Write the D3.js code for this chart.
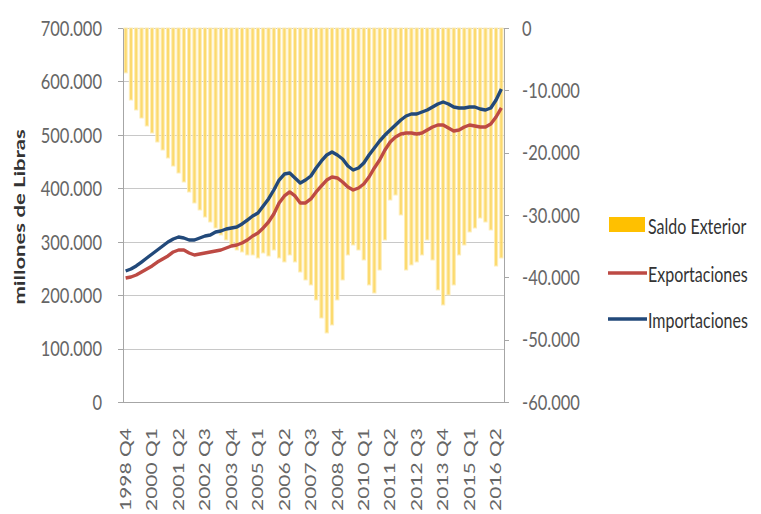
<!DOCTYPE html>
<html>
  <head>
    <meta charset="utf-8">
    <title>Saldo Exterior</title>
    <style>
      body { margin: 0; background: #fff; }
      text { font-family: Lato, "Liberation Sans", sans-serif; }
      .axis path, .axis line { stroke: #a6a6a6; shape-rendering: crispEdges; }
      .grid line { stroke: #c8c8c8; shape-rendering: crispEdges; }
      .grid path { display: none; }
    </style>
    <script src="https://d3js.org/d3.v7.min.js"></script>
  </head>
  <body>
    <script type="text/javascript">
      // quarters 1998 Q4 .. 2016 Q3
      var quarters = [
        "1998 Q4",
        "1999 Q1","1999 Q2","1999 Q3","1999 Q4",
        "2000 Q1","2000 Q2","2000 Q3","2000 Q4",
        "2001 Q1","2001 Q2","2001 Q3","2001 Q4",
        "2002 Q1","2002 Q2","2002 Q3","2002 Q4",
        "2003 Q1","2003 Q2","2003 Q3","2003 Q4",
        "2004 Q1","2004 Q2","2004 Q3","2004 Q4",
        "2005 Q1","2005 Q2","2005 Q3","2005 Q4",
        "2006 Q1","2006 Q2","2006 Q3","2006 Q4",
        "2007 Q1","2007 Q2","2007 Q3","2007 Q4",
        "2008 Q1","2008 Q2","2008 Q3","2008 Q4",
        "2009 Q1","2009 Q2","2009 Q3","2009 Q4",
        "2010 Q1","2010 Q2","2010 Q3","2010 Q4",
        "2011 Q1","2011 Q2","2011 Q3","2011 Q4",
        "2012 Q1","2012 Q2","2012 Q3","2012 Q4",
        "2013 Q1","2013 Q2","2013 Q3","2013 Q4",
        "2014 Q1","2014 Q2","2014 Q3","2014 Q4",
        "2015 Q1","2015 Q2","2015 Q3","2015 Q4",
        "2016 Q1","2016 Q2","2016 Q3"
      ];

      // millones de libras (eje izquierdo)
      var exportaciones = [
        232100,234000,237700,243300,248900,254600,262000,267700,273300,280800,
        284500,284500,278900,275100,277000,278900,280800,282600,284500,288200,
        292000,293900,297600,303200,310700,316300,325700,336900,351900,372500,
        385600,393100,385600,372500,372500,380000,393100,404300,415500,421100,
        419300,411800,402400,396800,400500,408000,421100,438000,452900,471700,
        486600,496000,501600,503500,503500,501600,503500,509100,514700,518500,
        518500,512800,507200,509100,514700,518500,516600,514700,514700,520300,
        533400,550300
      ];
      var importaciones = [
        245200,248900,254600,262000,269500,277000,284500,292000,299500,305100,
        308800,307000,303200,303200,307000,310700,312600,318200,320100,323800,
        325700,327500,333200,340600,348100,353700,366900,380000,396800,415500,
        426700,428600,419300,409900,415500,423000,438000,451100,462300,467900,
        462300,454800,441700,434200,438000,447300,462300,475400,488500,499700,
        509100,518500,527800,535300,539000,539000,542800,546500,552100,557800,
        561500,557800,552100,550300,550300,552100,552100,548400,546500,550300,
        565300,585800
      ];
      // saldo exterior (eje derecho)
      var saldo = [
        -7200,-11550,-13150,-14440,-15720,-16840,-18290,-19570,-20850,-22140,
        -23260,-24700,-26310,-28070,-29190,-30320,-31120,-32080,-33200,-34000,
        -34970,-35610,-35930,-36410,-36410,-36890,-36090,-36570,-35610,-36890,
        -37530,-36410,-37530,-39140,-40420,-41220,-43630,-46520,-48920,-47640,
        -43630,-40420,-36410,-34810,-35610,-37210,-41220,-42510,-38820,-34000,
        -27590,-26790,-29990,-38820,-38010,-37530,-36410,-34000,-37210,-42020,
        -44430,-42830,-41220,-36410,-34810,-32720,-32080,-30480,-31120,-32400,
        -38180,-36890
      ];
      var leftTicks = [0,100000,200000,300000,400000,500000,600000,700000];
      var rightTicks = [-60000,-50000,-40000,-30000,-20000,-10000,0];
      var legendNames = ["Saldo Exterior","Exportaciones","Importaciones"];

      var width = 761, height = 514;
      var plot = {left: 123, right: 504, top: 28, bottom: 402};
      var k = 1.3; // the source picture is stretched vertically

      var locale = d3.formatLocale({decimal: ",", thousands: ".", grouping: [3], currency: ["", ""], minus: "-"});
      var fmt = locale.format(",");

      var svg = d3.select("body").append("svg")
          .attr("width", width)
          .attr("height", height);

      var x = d3.scaleBand()
          .domain(quarters)
          .range([plot.left, plot.right])
          .paddingInner(0.4)
          .paddingOuter(0.2);
      var yL = d3.scaleLinear().domain([0, 700000]).range([plot.bottom, plot.top]);
      var yR = d3.scaleLinear().domain([-60000, 0]).range([plot.bottom, plot.top]);

      // gridlines
      svg.append("g")
          .attr("class", "grid")
          .attr("transform", "translate(" + plot.left + ",0)")
          .call(d3.axisLeft(yL).tickValues(leftTicks).tickSize(-(plot.right - plot.left)).tickFormat(""));

      // bars hang from zero on the right axis
      svg.append("g").selectAll("rect")
          .data(saldo)
          .enter()
          .append("rect")
            .attr("x", function(d, i) { return x(quarters[i]); })
            .attr("y", yR(0))
            .attr("width", x.bandwidth())
            .attr("height", function(d) { return yR(d) - yR(0); })
            .style("fill", "#fcd65e")
            .style("fill-opacity", 0.9)
            .style("stroke", "#fdedb8")
            .style("stroke-width", 1);

      // axes
      var gL = svg.append("g")
          .attr("class", "axis")
          .attr("transform", "translate(" + plot.left + ",0)")
          .call(d3.axisLeft(yL).tickValues(leftTicks).tickSize(5).tickSizeOuter(0).tickPadding(16).tickFormat(fmt));
      var gR = svg.append("g")
          .attr("class", "axis")
          .attr("transform", "translate(" + plot.right + ",0)")
          .call(d3.axisRight(yR).tickValues(rightTicks).tickSize(5).tickSizeOuter(0).tickPadding(13).tickFormat(fmt));
      [gL, gR].forEach(function(g) {
        g.selectAll("text")
            .attr("dy", "0.34em")
            .attr("transform", "scale(1," + k + ")")
            .style("font-size", "16.5px")
            .style("fill", "#666");
      });

      var gB = svg.append("g")
          .attr("class", "axis")
          .attr("transform", "translate(0," + plot.bottom + ")")
          .call(d3.axisBottom(x).tickValues(quarters.filter(function(d, i) { return i % 5 === 0; })).tickSize(0).tickSizeOuter(0));
      gB.selectAll("text")
          .attr("x", 0)
          .attr("y", 0)
          .attr("dy", "0.35em")
          .attr("transform", "translate(0,26) rotate(-90) scale(" + (k + 0.1) + ",1)")
          .style("text-anchor", "end")
          .style("font-size", "15px")
          .style("fill", "#666");

      // lines
      var line = d3.line()
          .x(function(d, i) { return x(quarters[i]) + x.bandwidth() / 2; })
          .y(function(d) { return yL(d); });

      svg.append("path")
          .datum(exportaciones)
          .attr("d", line)
          .style("fill", "none")
          .style("stroke", "#bd4a44")
          .style("stroke-width", 3.4)
          .style("stroke-linejoin", "round");
      svg.append("path")
          .datum(importaciones)
          .attr("d", line)
          .style("fill", "none")
          .style("stroke", "#22497a")
          .style("stroke-width", 3.4)
          .style("stroke-linejoin", "round");

      // y title
      svg.append("text")
          .attr("transform", "translate(25,217) rotate(-90) scale(" + (k + 0.08) + ",1)")
          .style("text-anchor", "middle")
          .style("font-weight", "bold")
          .style("font-size", "16px")
          .style("fill", "#333")
          .text("millones de Libras");

      // legend
      var legendY = [225, 273, 319];
      var leg = svg.append("g");
      leg.append("rect")
          .attr("x", 609).attr("y", legendY[0] - 8)
          .attr("width", 36).attr("height", 15)
          .style("fill", "#ffc000");
      leg.append("line")
          .attr("x1", 608).attr("x2", 647)
          .attr("y1", legendY[1]).attr("y2", legendY[1])
          .style("stroke", "#bd4a44").style("stroke-width", 3.5);
      leg.append("line")
          .attr("x1", 608).attr("x2", 647)
          .attr("y1", legendY[2]).attr("y2", legendY[2])
          .style("stroke", "#22497a").style("stroke-width", 3.5);
      leg.selectAll("text")
          .data(legendNames)
          .enter()
          .append("text")
            .attr("transform", function(d, i) { return "translate(648," + (legendY[i] + 3) + ") scale(1," + (k + 0.05) + ")"; })
            .attr("dy", "0.3em")
            .style("font-size", "16px")
            .style("fill", "#333")
            .text(function(d) { return d; });
    </script>
  </body>
</html>
